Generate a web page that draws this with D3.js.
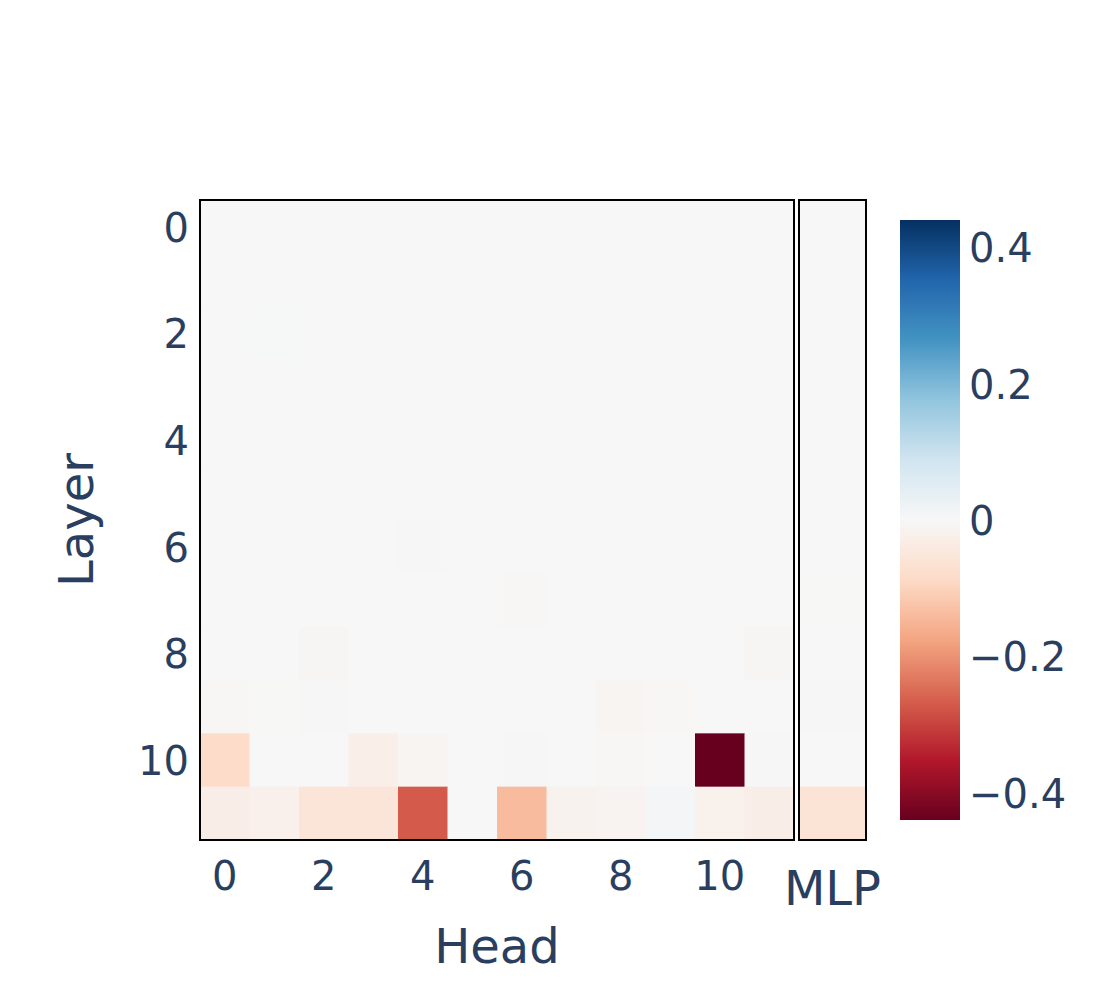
<!DOCTYPE html>
<html>
<head>
<meta charset="utf-8">
<script src="https://cdn.jsdelivr.net/npm/d3@7"></script>
<style>
  body { margin: 0; background: #fff; }
  svg text { font-family: "DejaVu Sans", sans-serif; fill: #2a3f5f; }
</style>
</head>
<body>
<svg id="chart" width="1100" height="1000"></svg>
<script>
// data
const heads = d3.range(12);
const layers = d3.range(12);
const headTicks = [0, 2, 4, 6, 8, 10];
const layerTicks = [0, 2, 4, 6, 8, 10];
const colorTicks = [-0.4, -0.2, 0, 0.2, 0.4];

// rows = layer, columns = head
const headValues = [
  [0, 0, 0, 0, 0, 0, 0, 0, 0, 0, 0, 0],
  [0, 0, 0, 0, 0, 0, 0, 0, 0, 0, 0, 0],
  [0, 0.002, 0, 0, 0, 0, 0, 0, 0, 0, 0, 0],
  [0, 0, 0, 0, 0, 0, 0, 0, 0, 0, 0, 0],
  [0, 0, 0, 0, 0, 0, 0, 0, 0, 0, 0, 0],
  [0, 0, 0, 0, 0, 0, 0, 0, 0, 0, 0, 0],
  [0, 0, 0, 0, -0.002, 0, 0, 0, 0, 0, 0, 0],
  [0, 0, 0, 0, 0, 0, -0.004, 0, 0, 0, 0, 0],
  [0, 0, -0.005, 0, 0, 0, 0, 0, 0, 0, 0.001, -0.005],
  [-0.004, -0.001, -0.002, 0.001, 0, 0, 0, 0, -0.01, -0.004, 0, 0],
  [-0.085, 0, 0.001, -0.027, -0.009, 0, -0.002, 0.001, -0.003, 0.001, -0.44, -0.002],
  [-0.03, -0.022, -0.056, -0.056, -0.27, 0, -0.14, -0.016, -0.013, 0.009, -0.02, -0.03]
];
const mlpValues = [0, 0, 0, 0, 0, 0, 0, -0.001, 0, -0.002, 0.001, -0.06];

const rdbu = ["#67001f", "#b2182b", "#d6604d", "#f4a582", "#fddbc7", "#f7f7f7",
              "#d1e5f0", "#92c5de", "#4393c3", "#2166ac", "#053061"];
const zmax = 0.44;

const svg = d3.select("#chart");

const plotTop = 200, plotBottom = 840;
const x = d3.scaleBand().domain(heads).range([200, 794]);
const y = d3.scaleBand().domain(layers).range([plotTop, plotBottom]);
const xMlp = d3.scaleBand().domain(["MLP"]).range([799, 866]);

const color = d3.scaleLinear()
    .domain(d3.range(11).map(i => -zmax + i * 2 * zmax / 10))
    .range(rdbu)
    .interpolate(d3.interpolateRgb)
    .clamp(true);

const cells = [];
headValues.forEach((row, l) => row.forEach((v, h) => cells.push({ l, h, v })));

svg.append("g")
    .selectAll("rect")
    .data(cells)
    .join("rect")
    .attr("x", d => x(d.h))
    .attr("y", d => y(d.l))
    .attr("width", x.bandwidth() + 0.5)
    .attr("height", y.bandwidth() + 0.5)
    .attr("fill", d => color(d.v));

svg.append("g")
    .selectAll("rect")
    .data(mlpValues)
    .join("rect")
    .attr("x", xMlp("MLP"))
    .attr("y", (d, i) => y(i))
    .attr("width", xMlp.bandwidth())
    .attr("height", y.bandwidth() + 0.5)
    .attr("fill", d => color(d));

// frames
svg.append("rect")
    .attr("x", 200).attr("y", plotTop).attr("width", 594).attr("height", plotBottom - plotTop)
    .attr("fill", "none").attr("stroke", "#000").attr("stroke-width", 2);
svg.append("rect")
    .attr("x", 799).attr("y", plotTop).attr("width", 67).attr("height", plotBottom - plotTop)
    .attr("fill", "none").attr("stroke", "#000").attr("stroke-width", 2);

// tick labels
svg.append("g")
    .selectAll("text")
    .data(headTicks)
    .join("text")
    .attr("x", d => x(d) + x.bandwidth() / 2)
    .attr("y", 890)
    .attr("text-anchor", "middle")
    .style("font-size", "40px")
    .text(d => d);

svg.append("g")
    .selectAll("text")
    .data(layerTicks)
    .join("text")
    .attr("x", 189)
    .attr("y", d => y(d) + y.bandwidth() / 2 + 15)
    .attr("text-anchor", "end")
    .style("font-size", "40px")
    .text(d => d);

svg.append("text")
    .attr("x", xMlp("MLP") + xMlp.bandwidth() / 2)
    .attr("y", 905)
    .attr("text-anchor", "middle")
    .style("font-size", "48px")
    .text("MLP");

// axis titles
svg.append("text")
    .attr("x", 497)
    .attr("y", 963)
    .attr("text-anchor", "middle")
    .style("font-size", "48px")
    .text("Head");

svg.append("text")
    .attr("transform", "translate(93," + (plotTop + plotBottom) / 2 + ") rotate(-90)")
    .attr("text-anchor", "middle")
    .style("font-size", "48px")
    .text("Layer");

// colorbar
const cb = d3.scaleLinear().domain([-zmax, zmax]).range([820, 220]);
const grad = svg.append("defs").append("linearGradient")
    .attr("id", "cbgrad")
    .attr("x1", 0).attr("y1", 1).attr("x2", 0).attr("y2", 0);
grad.selectAll("stop")
    .data(rdbu)
    .join("stop")
    .attr("offset", (d, i) => i / 10)
    .attr("stop-color", d => d);

svg.append("rect")
    .attr("x", 900).attr("y", cb(zmax))
    .attr("width", 60).attr("height", cb(-zmax) - cb(zmax))
    .attr("fill", "url(#cbgrad)");

svg.append("g")
    .selectAll("text")
    .data(colorTicks)
    .join("text")
    .attr("x", 969)
    .attr("y", d => cb(d) + 15)
    .style("font-size", "40px")
    .text(d => d === 0 ? "0" : d3.format(".1f")(d).replace("-", "\u2212"));
</script>
</body>
</html>
